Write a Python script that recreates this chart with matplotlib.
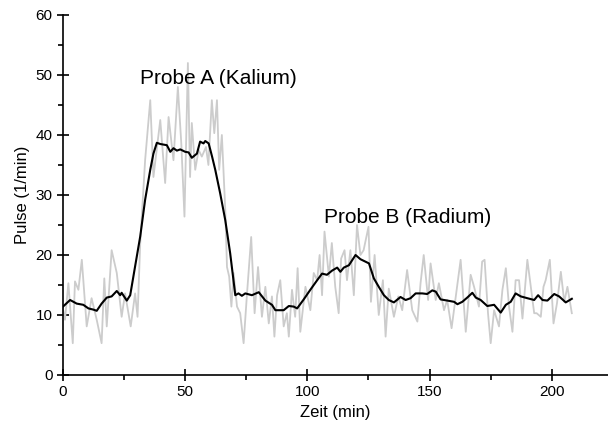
import matplotlib
matplotlib.use("Agg")
import matplotlib.pyplot as plt
from matplotlib.ticker import MultipleLocator

plt.rcParams["font.family"] = ["Liberation Sans", "DejaVu Sans"]

# raw counts (grey)
raw_t = [0.0, 0.8, 2.2, 4.0, 4.9, 6.3, 7.7, 9.7, 11.7, 13.8, 15.8, 16.9, 17.9, 19.9,
         22.0, 24.0, 25.4, 27.7, 29.5, 30.5, 31.6, 33.6, 35.7, 37.0, 39.8, 41.8, 43.2,
         45.2, 47.0, 48.4, 49.7, 51.1, 52.0, 52.7, 54.1, 55.5, 56.8, 58.5, 59.5, 60.9,
         61.9, 63.0, 63.9, 65.0, 66.4, 67.1, 68.0, 68.9, 69.8, 71.2, 72.5, 73.9, 75.3,
         77.0, 78.4, 79.8, 81.4, 82.8, 84.2, 85.5, 86.5, 87.6, 88.9, 90.3, 91.6, 92.4,
         93.7, 95.0, 96.0, 97.1, 99.2, 101.2, 102.6, 104.0, 105.0, 106.0, 107.0, 108.8,
         110.0, 111.4, 112.8, 113.8, 115.2, 116.2, 117.6, 119.0, 120.3, 121.7, 123.0,
         125.0, 126.0, 127.5, 129.2, 130.9, 132.0, 133.3, 135.4, 137.2, 138.8, 140.8,
         142.9, 145.0, 146.3, 147.6, 149.4, 150.4, 152.5, 153.8, 155.9, 157.2, 159.0,
         160.7, 162.7, 164.8, 166.8, 168.2, 170.2, 171.5, 172.5, 173.9, 175.0, 176.4,
         178.4, 179.8, 181.2, 182.5, 183.9, 185.2, 186.6, 188.0, 190.0, 191.4, 192.8,
         193.8, 195.5, 196.6, 197.5, 199.2, 200.7, 202.1, 203.7, 205.1, 206.4, 208.2]
raw_n = [11.0, 9.2, 15.3, 5.3, 15.6, 14.2, 19.2, 8.1, 12.8, 9.2, 5.3, 16.1, 8.1, 20.8,
         17.0, 9.7, 13.6, 8.1, 13.6, 9.7, 22.0, 35.8, 45.8, 33.0, 42.5, 32.0, 43.0,
         35.8, 48.0, 38.6, 26.4, 52.0, 33.0, 42.0, 34.2, 37.5, 36.4, 38.0, 35.0, 45.8,
         40.3, 45.8, 34.2, 40.0, 27.5, 18.0, 16.4, 11.4, 17.0, 11.4, 10.3, 5.3, 13.6,
         23.0, 10.3, 18.0, 9.7, 14.7, 8.6, 13.1, 6.4, 13.3, 15.8, 8.1, 10.3, 6.4,
         14.2, 9.7, 17.8, 7.2, 14.7, 10.8, 17.0, 15.8, 20.0, 13.3, 23.9, 16.4,
         22.0, 14.7, 10.3, 19.4, 20.8, 15.8, 20.8, 13.3, 25.0, 20.0, 20.8,
         24.7, 12.2, 20.0, 10.0, 15.8, 6.4, 14.4, 9.7, 13.1, 10.8, 17.5,
         10.8, 8.9, 15.3, 20.0, 12.5, 18.6, 12.5, 15.3, 10.8, 12.5, 7.8,
         13.1, 19.2, 7.2, 16.7, 14.7, 11.4, 18.9, 19.2, 10.3, 5.3, 10.8,
         8.1, 14.2, 17.8, 11.4, 7.2, 15.8, 15.8, 9.4, 19.2, 14.7, 10.3,
         10.3, 9.7, 14.7, 15.8, 19.2, 8.6, 11.9, 17.2, 12.2, 14.7, 10.3]

# smoothed curve (black)
smooth_t = [0.0, 2.9, 5.6, 8.3, 10.4, 12.4, 13.8, 15.8, 17.9, 19.9, 22.0, 23.4, 24.0,
            26.1, 27.5, 29.5, 31.6, 33.6, 35.7, 37.0, 38.4, 39.8, 42.5, 43.9, 45.2,
            46.6, 48.0, 50.0, 51.4, 52.7, 54.8, 56.1, 57.5, 58.2, 59.6, 61.0, 62.3,
            64.3, 66.4, 68.4, 70.5, 71.8, 73.2, 74.6, 77.3, 80.1, 82.8, 85.5, 86.9,
            90.3, 92.4, 94.4, 95.8, 98.5, 101.2, 104.0, 106.0, 108.0, 110.1, 112.2,
            113.5, 114.9, 117.0, 119.7, 121.7, 125.2, 127.2, 129.2, 131.3, 133.3,
            135.4, 138.1, 140.2, 142.2, 144.3, 147.0, 149.0, 151.1, 152.5, 154.5,
            157.3, 160.0, 161.4, 163.4, 165.4, 167.5, 168.9, 170.9, 173.6, 176.4,
            179.1, 181.2, 183.2, 185.2, 187.3, 190.0, 192.8, 194.4, 196.2, 198.2,
            201.0, 203.0, 205.7, 208.2]
smooth_n = [11.4, 12.5, 11.9, 11.7, 11.1, 10.9, 10.7, 11.9, 12.9, 13.1, 14.0, 13.3, 13.7,
            12.4, 13.3, 18.1, 23.1, 29.2, 34.2, 36.9, 38.7, 38.5, 38.3, 37.2, 37.8,
            37.4, 37.6, 37.2, 37.1, 36.2, 36.9, 38.9, 38.6, 39.0, 38.6, 36.4, 34.2,
            30.3, 25.8, 20.3, 13.3, 13.6, 13.2, 13.6, 13.3, 13.8, 12.4, 11.7, 10.8,
            10.8, 11.5, 11.4, 11.1, 12.6, 14.2, 15.8, 16.9, 16.7, 17.4, 17.9,
            17.2, 17.9, 18.3, 20.0, 19.3, 18.6, 16.1, 14.7, 13.3, 12.5,
            12.1, 13.0, 12.5, 12.8, 13.6, 13.6, 13.5, 14.1, 13.9, 12.6,
            12.4, 12.2, 11.8, 12.2, 12.9, 13.7, 12.9, 12.5, 11.5, 11.7,
            10.4, 11.7, 12.2, 13.6, 13.1, 12.8, 12.5, 13.3, 12.5, 12.4,
            13.5, 13.1, 12.1, 12.7]

fig = plt.figure(figsize=(6.08, 4.30), dpi=100)
ax = fig.add_axes([63 / 608, 55 / 430, 545 / 608, 360 / 430])

ax.plot(raw_t, raw_n, color="#cccccc", lw=1.3)
ax.plot(smooth_t, smooth_n, color="black", lw=1.5)

ax.text(63.7, 49.5, "Probe A (Kalium)", ha="center", va="center", fontsize=15)
ax.text(106.6, 26.3, "Probe B (Radium)", ha="left", va="center", fontsize=15)

ax.set_xlim(0, 223)
ax.set_ylim(0, 60)
ax.xaxis.set_major_locator(MultipleLocator(50))
ax.xaxis.set_minor_locator(MultipleLocator(25))
ax.yaxis.set_major_locator(MultipleLocator(10))
ax.yaxis.set_minor_locator(MultipleLocator(5))
ax.tick_params(which="major", direction="inout", length=8, width=1.2, labelsize=11)
ax.tick_params(which="minor", direction="out", length=3.5, width=1.2)

for side in ["top", "right"]:
    ax.spines[side].set_visible(False)
for side in ["left", "bottom"]:
    ax.spines[side].set_linewidth(1.2)

ax.set_xlabel("Zeit (min)", fontsize=12)
ax.set_ylabel("Pulse (1/min)", fontsize=12)

fig.savefig("out.png", dpi=100)
